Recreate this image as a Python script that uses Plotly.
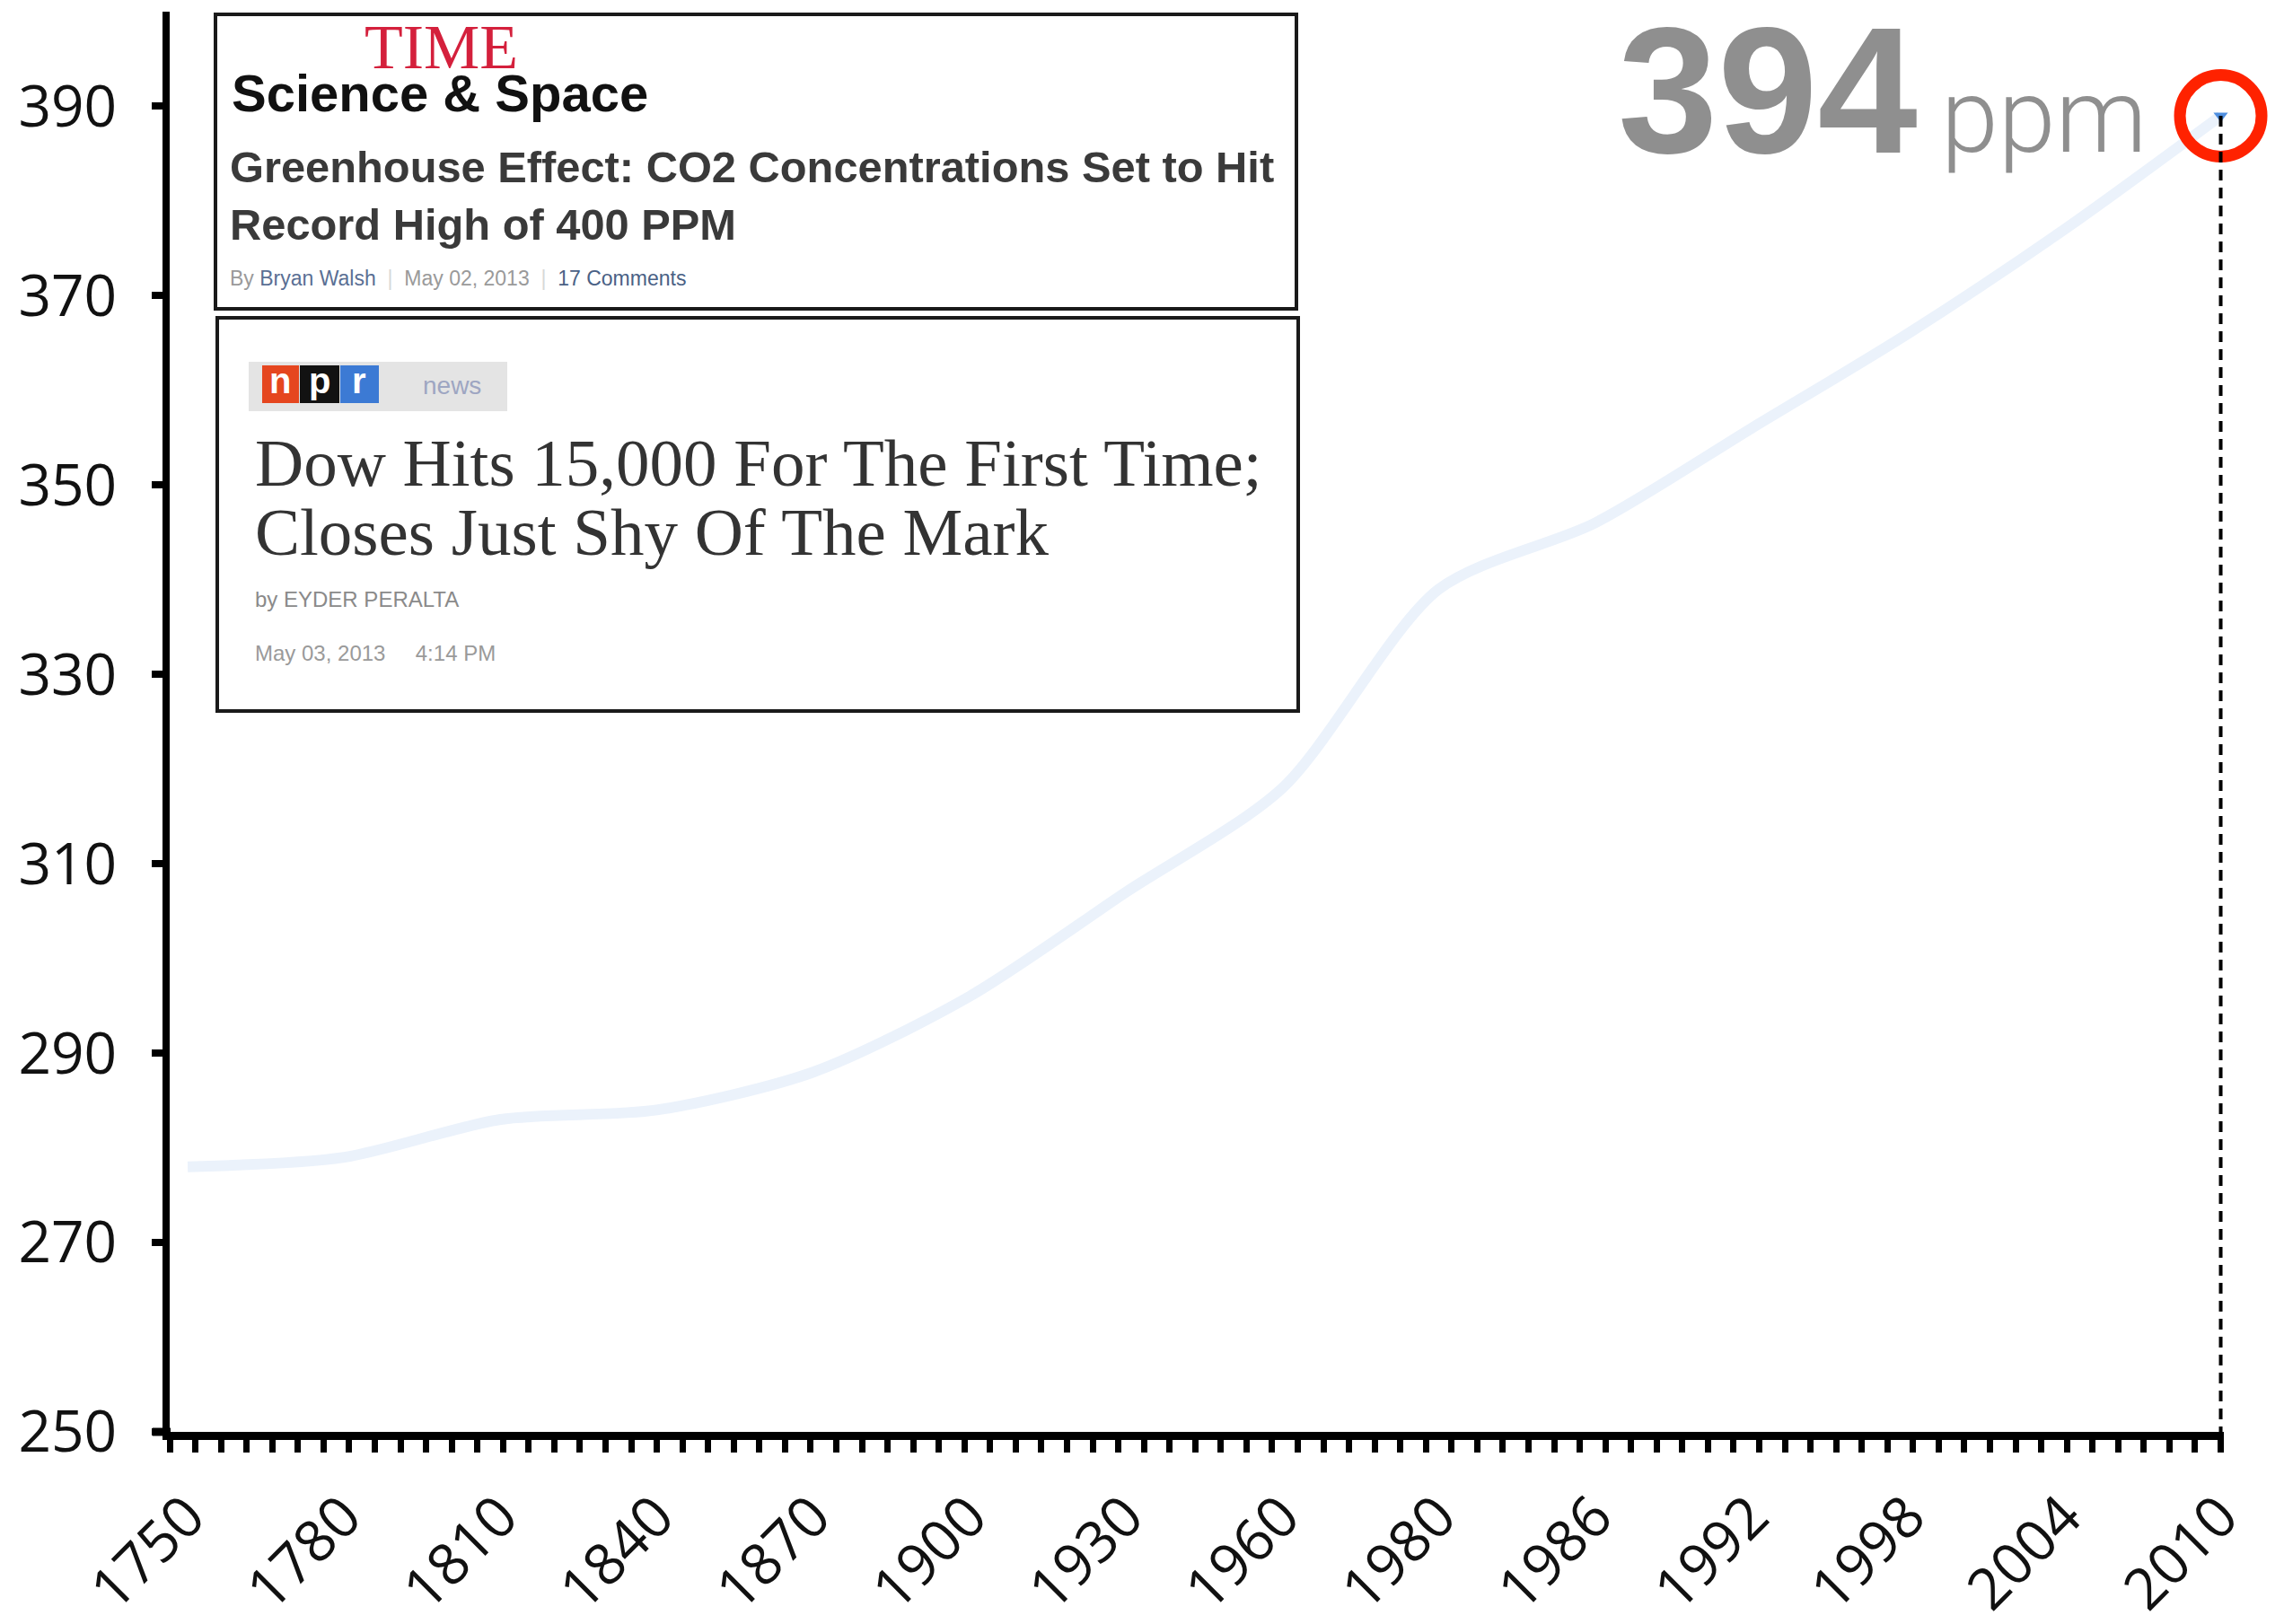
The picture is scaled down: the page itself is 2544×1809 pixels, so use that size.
import plotly.graph_objects as go

# ---------------- data ----------------
years = ["1750", "1780", "1810", "1840", "1870", "1900", "1930",
         "1960", "1980", "1986", "1992", "1998", "2004", "2010"]
co2_ppm = [278, 279, 283, 284, 288, 296, 307, 318, 339, 346, 356, 366, 377, 389]
y_ticks = [250, 270, 290, 310, 330, 350, 370, 390]
y_range = [250, 400]
headline_value = "394"
headline_unit = "ppm"

time_lines = ["Greenhouse Effect: CO2 Concentrations Set to Hit",
              "Record High of 400 PPM"]
npr_lines = ["Dow Hits 15,000 For The First Time;",
             "Closes Just Shy Of The Mark"]

# ---------------- layout helpers (page pixel -> paper) ----------------
W, H = 2544, 1809
OFF = 8                      # page body margin
L, R, T, B = 181, 75, 5, 222
PW, PH = W - L - R, H - T - B


def px(x):
    return (x - OFF - L) / PW


def py(y):
    return (H - B - (y - OFF)) / PH


idx = list(range(len(years)))
x_lo, x_hi = -0.115, 13.02

fig = go.Figure()

# faint CO2 curve
fig.add_trace(go.Scatter(
    x=idx, y=co2_ppm, mode="lines",
    line=dict(color="#ebf2fb", width=12, shape="spline", smoothing=0.8),
    hoverinfo="skip", showlegend=False))

# end marker (small blue wedge)
fig.add_trace(go.Scatter(
    x=[idx[-1]], y=[co2_ppm[-1]], mode="markers", cliponaxis=False,
    marker=dict(symbol="triangle-down", size=14, color="#4f8fe0"),
    hoverinfo="skip", showlegend=False))

# red highlight circle
fig.add_trace(go.Scatter(
    x=[idx[-1]], y=[co2_ppm[-1]], mode="markers", cliponaxis=False,
    marker=dict(symbol="circle-open", size=91, color="#ff2200",
                line=dict(color="#ff2200", width=13)),
    hoverinfo="skip", showlegend=False))

shapes = []
# dotted drop line
shapes.append(dict(type="line", xref="x", yref="y",
                   x0=idx[-1], x1=idx[-1], y0=co2_ppm[-1], y1=y_range[0],
                   line=dict(color="black", width=4, dash="12px,8px")))
# short extension of the x-axis line to the left of the y-axis
shapes.append(dict(type="line", xref="paper", yref="paper",
                   x0=px(170), x1=px(190), y0=0, y1=0,
                   line=dict(color="black", width=9)))
# headline boxes
shapes.append(dict(type="rect", xref="paper", yref="paper",
                   x0=px(240), x1=px(1444), y0=py(344), y1=py(16),
                   line=dict(color="#1a1a1a", width=4), fillcolor="white",
                   layer="above"))
shapes.append(dict(type="rect", xref="paper", yref="paper",
                   x0=px(242), x1=px(1446), y0=py(792), y1=py(354),
                   line=dict(color="#1a1a1a", width=4), fillcolor="white",
                   layer="above"))
# npr logo
shapes.append(dict(type="rect", xref="paper", yref="paper",
                   x0=px(277), x1=px(565), y0=py(458), y1=py(403),
                   line=dict(width=0), fillcolor="#e4e4e4", layer="above"))
for (a, b, c) in [(292, 333, "#e5461f"), (334, 378, "#121212"), (379, 422, "#3c7ad4")]:
    shapes.append(dict(type="rect", xref="paper", yref="paper",
                       x0=px(a), x1=px(b), y0=py(449), y1=py(407),
                       line=dict(width=0), fillcolor=c, layer="above"))

ann = []


def text(t, x, y, size, color, family, xanchor="left", yanchor="middle", weight="normal"):
    ann.append(dict(text=t, x=px(x), y=py(y), xref="paper", yref="paper",
                    showarrow=False, xanchor=xanchor, yanchor=yanchor,
                    font=dict(size=size, color=color, family=family, weight=weight)))


SERIF = "Liberation Serif, Times New Roman, serif"
SANS = "Liberation Sans, Arial, sans-serif"

# TIME box
text("TIME", 491, 52, 70, "#d4203c", SERIF, xanchor="center")
text("Science &amp; Space", 256, 103, 58, "#111111", SANS, weight="bold")
text(time_lines[0], 254, 186, 48.8, "#3a3a3a", SANS, weight="bold")
text(time_lines[1], 254, 250, 48.8, "#3a3a3a", SANS, weight="bold")
sep = "<span style='color:#d8d8d8'>\u00a0\u00a0|\u00a0\u00a0</span>"
text("By <span style='color:#5a6f94'>Bryan Walsh</span>" + sep +
     "May 02, 2013" + sep + "<span style='color:#4a6185'>17 Comments</span>",
     254, 310, 23, "#9a9a9a", SANS)

# NPR box
for (ch, cx) in [("n", 312), ("p", 356), ("r", 400)]:
    text(ch, cx, 424, 40, "white", SANS, xanchor="center", weight="bold")
text("news", 503, 430, 28, "#9ea6c2", SANS, xanchor="center")
text(npr_lines[0], 282, 515, 75, "#333333", SERIF)
text(npr_lines[1], 282, 592, 75, "#333333", SERIF)
text("by EYDER PERALTA", 282, 668, 24, "#8a8a8a", SANS)
text("May 03, 2013\u00a0\u00a0\u00a0\u00a0\u00a04:14 PM", 282, 727, 24, "#9a9a9a", SANS)

# big value
text(headline_value, 1800, 101, 200, "#8f8f8f", SANS, weight="bold")
text(headline_unit, 2160, 130, 115, "#8f8f8f", "Roboto, Liberation Sans, sans-serif", weight=300)

fig.update_layout(
    width=W, height=H,
    margin=dict(l=L, r=R, t=T, b=B, autoexpand=False),
    paper_bgcolor="white", plot_bgcolor="white",
    showlegend=False,
    shapes=shapes, annotations=ann,
    xaxis=dict(range=[x_lo, x_hi], tickvals=idx, ticktext=years,
               tickangle=-45, ticks="", showgrid=False, zeroline=False,
               automargin=False,
               showline=True, linecolor="black", linewidth=9,
               tickfont=dict(family="Open Sans, sans-serif", size=64, color="#111"),
               ticklabelstandoff=22,
               minor=dict(ticks="outside", ticklen=14, tickwidth=7, tickcolor="black",
                          tick0=x_lo, dtick=(13 - x_lo) / 80, showgrid=False)),
    yaxis=dict(range=y_range, tickvals=y_ticks, ticks="outside", ticklen=12,
               tickwidth=8, tickcolor="black", showgrid=False, zeroline=False,
               automargin=False,
               showline=True, linecolor="black", linewidth=8,
               tickfont=dict(family="Open Sans, sans-serif", size=64, color="#111"),
               ticklabelstandoff=26),
)

fig.write_html("out.html")
